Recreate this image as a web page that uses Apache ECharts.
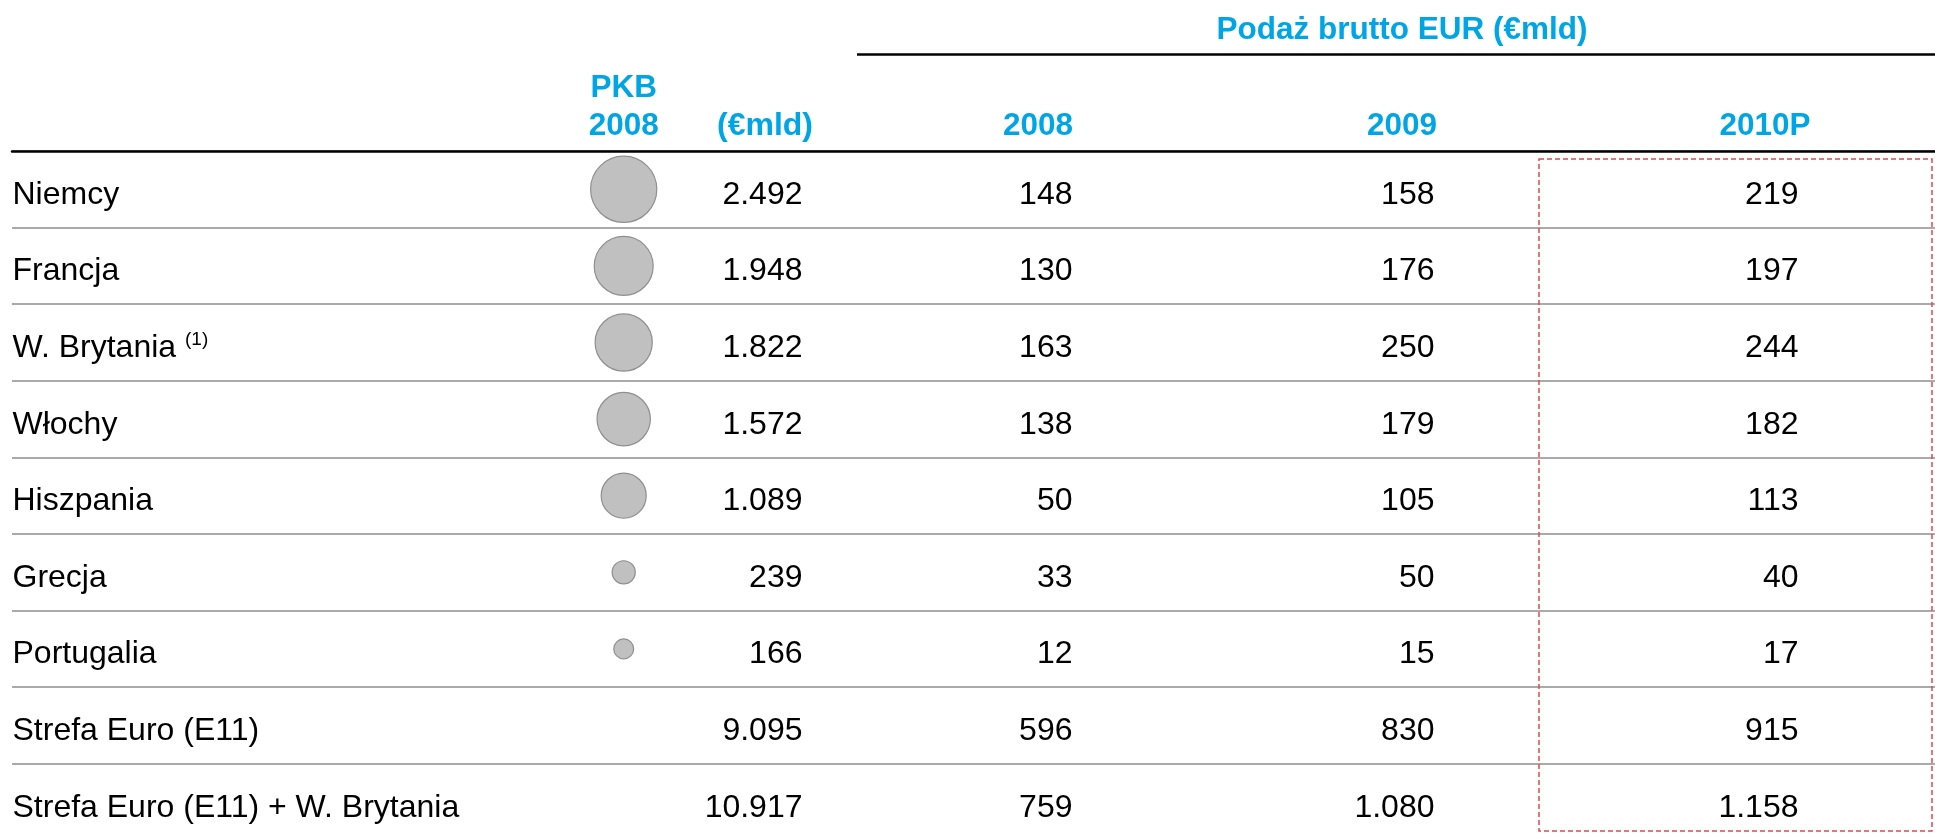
<!DOCTYPE html>
<html>
<head>
<meta charset="utf-8">
<script src="https://cdn.jsdelivr.net/npm/echarts@6/dist/echarts.min.js"></script>
<style>
html,body{margin:0;padding:0;background:#fff;overflow:hidden;}
#chart{width:1935px;height:860px;}
</style>
</head>
<body>
<div id="chart"></div>
<script>
// ---- data ----
const rows = ['Niemcy','Francja','W. Brytania','Włochy','Hiszpania','Grecja','Portugalia','Strefa Euro (E11)','Strefa Euro (E11) + W. Brytania'];
const rowNotes = ['','','(1)','','','','','',''];
const gdp2008 = [2492,1948,1822,1572,1089,239,166,9095,10917];
const bubbleRowCount = 7; // bubbles only for individual countries
const supply2008 = [148,130,163,138,50,33,12,596,759];
const supply2009 = [158,176,250,179,105,50,15,830,1080];
const supply2010 = [219,197,244,182,113,40,17,915,1158];
const titleText = 'Podaż brutto EUR (€mld)';
const gdpHeader = ['PKB','2008'];
const gdpUnit = '(€mld)';
const columnHeaders = ['2008','2009','2010P'];

// ---- layout ----
const FONT = '"Liberation Sans", Arial, sans-serif';
const BLUE = '#00A5E6';
const FS = 32;
const LEFT = 12, RIGHT = 1935, TOP = 151, ROWH = 76.6;
const X_NAME = 12, X_BUBBLE = 623.7, X_GDP = 803;
const X_VALS = [1073, 1435, 1799];
const X_HEAD = [1038, 1402, 1765];
const TEXT_DY = 5.7;
const HEAD_Y = 126;

function fmt(n){ return String(n).replace(/\B(?=(\d{3})+(?!\d))/g, '.'); }

function textSeries(x, values, isName){
  return {
    type: 'scatter',
    symbolSize: 1,
    itemStyle: {color: 'rgba(0,0,0,0)', opacity: 1},
    silent: true,
    data: values.map((v, i) => [x, i, v]),
    label: {
      show: true,
      position: isName ? 'right' : 'left',
      distance: 0,
      offset: [0, TEXT_DY],
      color: '#000',
      opacity: 1,
      fontFamily: FONT,
      fontSize: FS,
      formatter: isName
        ? (p) => rowNotes[p.dataIndex] ? '{n|' + p.value[2] + '} {s|' + rowNotes[p.dataIndex] + '}' : '{n|' + p.value[2] + '}'
        : (p) => fmt(p.value[2]),
      rich: isName ? {
        n: {fontSize: FS, fontFamily: FONT, color: '#000', lineHeight: 36},
        s: {fontSize: 19, fontFamily: FONT, color: '#000', lineHeight: 26, verticalAlign: 'top'}
      } : undefined
    }
  };
}

const chart = echarts.init(document.getElementById('chart'), null, {renderer: 'canvas'});

const headerTexts = [];
headerTexts.push({type:'text', style:{text: titleText, x: 1402, y: 30, align:'center', verticalAlign:'middle', font: 'bold 31.5px ' + FONT, fill: BLUE}});
headerTexts.push({type:'text', style:{text: gdpHeader[0], x: X_BUBBLE, y: 88.5, align:'center', verticalAlign:'middle', font: 'bold 31.5px ' + FONT, fill: BLUE}});
headerTexts.push({type:'text', style:{text: gdpHeader[1], x: X_BUBBLE, y: HEAD_Y, align:'center', verticalAlign:'middle', font: 'bold 31.5px ' + FONT, fill: BLUE}});
headerTexts.push({type:'text', style:{text: gdpUnit, x: 813, y: HEAD_Y, align:'right', verticalAlign:'middle', font: 'bold 32px ' + FONT, fill: BLUE}});
columnHeaders.forEach((h, i) => {
  headerTexts.push({type:'text', style:{text: h, x: X_HEAD[i], y: HEAD_Y, align:'center', verticalAlign:'middle', font: 'bold 31.5px ' + FONT, fill: BLUE}});
});

const option = {
  animation: false,
  backgroundColor: '#fff',
  grid: {left: LEFT, top: TOP, width: RIGHT - LEFT, height: rows.length * ROWH, containLabel: false},
  xAxis: {
    type: 'value', min: LEFT, max: RIGHT, position: 'top',
    axisLine: {show: true, onZero: false, lineStyle: {color: '#000', width: 2.5}},
    axisTick: {show: false}, axisLabel: {show: false}, splitLine: {show: false}
  },
  yAxis: {
    type: 'category', data: rows, inverse: true,
    axisLine: {show: false}, axisTick: {show: false}, axisLabel: {show: false},
    splitLine: {show: true, interval: 0, lineStyle: {color: '#AAAAAA', width: 2}}
  },
  series: [
    textSeries(X_NAME, rows, true),
    {
      type: 'scatter',
      silent: true,
      data: gdp2008.slice(0, bubbleRowCount).map((v, i) => [X_BUBBLE, i, v]),
      symbolSize: (d) => 3.8 + 1.25 * Math.sqrt(d[2]),
      itemStyle: {color: '#C0C0C0', borderColor: '#8F8F8F', borderWidth: 1.2, opacity: 1}
    },
    textSeries(X_GDP, gdp2008, false),
    textSeries(X_VALS[0], supply2008, false),
    textSeries(X_VALS[1], supply2009, false),
    textSeries(X_VALS[2], supply2010, false)
  ],
  graphic: [
    {type: 'line', shape: {x1: 857, y1: 54.5, x2: 1935, y2: 54.5}, style: {stroke: '#000', lineWidth: 2.5}},
    {type: 'rect', shape: {x: 1539, y: 159, width: 393, height: 672}, style: {fill: 'none', stroke: '#E3474F', lineWidth: 1.5, lineDash: [5, 3]}, z: 10}
  ].concat(headerTexts)
};
chart.setOption(option);
</script>
</body>
</html>
